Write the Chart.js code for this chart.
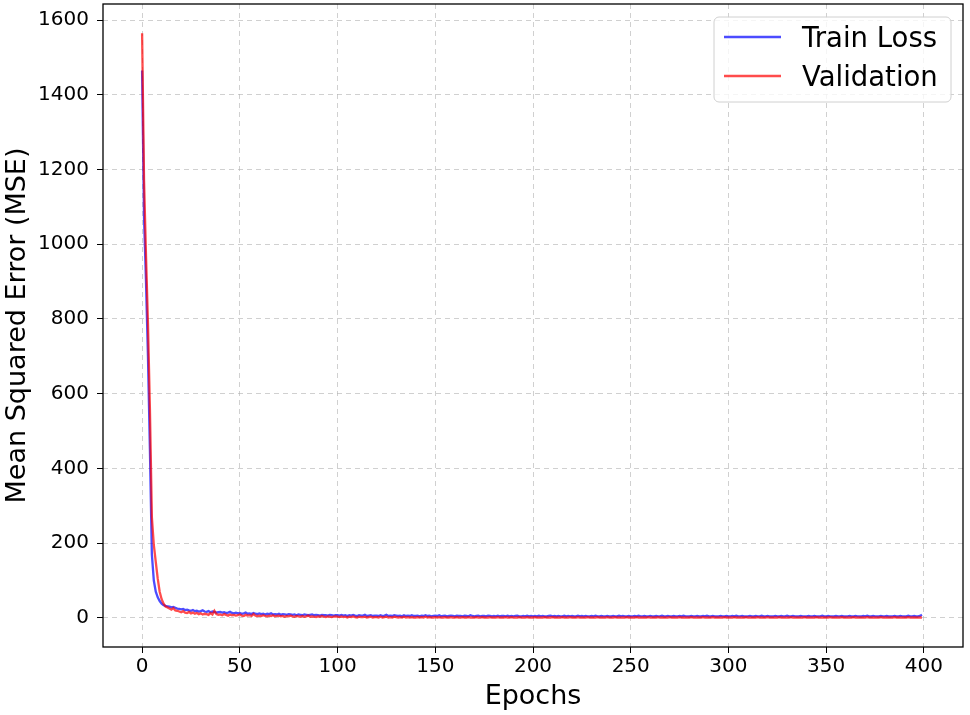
<!DOCTYPE html>
<html>
<head>
<meta charset="utf-8">
<script src="https://cdn.jsdelivr.net/npm/chart.js@4/dist/chart.umd.min.js"></script>
<style>
  html, body { margin: 0; padding: 0; background: #fff; }
  #wrap { width: 970px; height: 715px; }
</style>
</head>
<body>
<div id="wrap"><canvas id="lossChart" width="970" height="715"></canvas></div>
<script>
// values, one per epoch (0..399)
const trainLoss = [
  1465, 1070, 900, 700, 450, 170, 100, 70, 55, 45, 38, 34, 32, 31, 30, 28, 29, 27, 25, 24,
  23, 24, 21, 22, 20, 19, 21, 18, 19, 17, 18, 20, 17, 16, 18, 15, 17, 16, 14, 15,
  16, 14, 15, 13, 14, 16, 13, 12, 14, 12, 13, 11, 12, 14, 11, 12, 10, 13, 11, 10,
  12, 10, 11, 9, 11, 10, 12, 9, 10, 9, 11, 8, 10, 9, 8, 10, 9, 8, 9, 7,
  9, 8, 7, 9, 8, 7, 8, 9, 7, 8, 7, 6, 8, 7, 7, 6, 8, 7, 6, 7,
  7, 6, 8, 6, 7, 5, 7, 6, 8, 6, 5, 7, 6, 6, 8, 5, 6, 7, 5, 6,
  6, 5, 7, 5, 6, 8, 5, 6, 5, 7, 6, 5, 6, 4, 7, 5, 6, 5, 7, 5,
  5, 6, 4, 6, 5, 7, 5, 6, 4, 5, 6, 5, 7, 4, 5, 6, 4, 5, 6, 5,
  4, 6, 5, 5, 4, 6, 5, 4, 7, 5, 4, 5, 6, 4, 5, 5, 4, 6, 5, 4,
  5, 4, 6, 4, 5, 5, 4, 6, 4, 5, 4, 5, 6, 4, 4, 5, 4, 6, 4, 5,
  4, 5, 4, 6, 4, 5, 4, 4, 5, 6, 4, 5, 4, 5, 4, 4, 6, 4, 5, 4,
  5, 4, 4, 6, 4, 5, 4, 5, 4, 4, 5, 4, 6, 4, 4, 5, 4, 4, 5, 4,
  4, 5, 4, 4, 6, 4, 5, 4, 4, 5, 4, 4, 5, 4, 6, 4, 4, 5, 4, 4,
  5, 4, 4, 5, 4, 4, 6, 4, 4, 5, 4, 4, 5, 4, 4, 5, 4, 6, 4, 4,
  4, 5, 4, 4, 5, 4, 4, 5, 4, 6, 4, 4, 5, 4, 4, 4, 5, 4, 4, 5,
  4, 4, 5, 4, 6, 4, 4, 5, 4, 4, 4, 5, 4, 4, 5, 4, 4, 6, 4, 4,
  5, 4, 4, 4, 5, 4, 4, 5, 4, 4, 6, 4, 4, 5, 4, 4, 4, 5, 4, 4,
  4, 5, 4, 4, 5, 4, 4, 4, 6, 4, 4, 5, 4, 4, 4, 5, 4, 4, 5, 4,
  4, 4, 5, 4, 4, 5, 4, 4, 4, 5, 4, 6, 4, 4, 5, 4, 4, 4, 5, 4,
  4, 5, 4, 4, 4, 5, 4, 4, 5, 4, 4, 4, 6, 4, 4, 5, 4, 4, 5, 8
];
const valLoss = [
  1565, 1170, 970, 790, 560, 270, 195, 150, 105, 70, 50, 38, 30, 28, 25, 22, 26, 20, 19, 17,
  15, 18, 14, 13, 16, 12, 14, 11, 13, 10, 12, 9, 11, 10, 8, 13, 9, 19, 10, 8,
  9, 7, 10, 8, 6, 9, 7, 8, 6, 7, 9, 6, 5, 8, 6, 7, 5, 10, 6, 5,
  6, 5, 7, 5, 4, 6, 5, 7, 4, 5, 6, 4, 5, 3, 5, 4, 6, 4, 3, 5,
  4, 3, 5, 3, 4, 6, 3, 4, 3, 2, 4, 3, 5, 3, 2, 4, 3, 2, 3, 4,
  3, 2, 4, 2, 3, 1, 3, 2, 4, 2, 1, 3, 2, 2, 3, 1, 2, 3, 1, 2,
  2, 1, 3, 1, 2, 3, 1, 2, 1, 3, 2, 1, 2, 1, 3, 1, 2, 1, 2, 1,
  1, 2, 1, 2, 1, 3, 1, 2, 1, 1, 2, 1, 2, 1, 1, 2, 1, 1, 2, 1,
  1, 2, 1, 1, 2, 1, 1, 2, 1, 1, 1, 2, 1, 1, 2, 1, 1, 1, 2, 1,
  1, 1, 2, 1, 1, 1, 2, 1, 1, 2, 1, 1, 1, 2, 1, 1, 1, 2, 1, 1,
  1, 2, 1, 1, 1, 1, 2, 1, 1, 1, 2, 1, 1, 1, 1, 2, 1, 1, 1, 2,
  1, 1, 1, 2, 1, 1, 1, 1, 2, 1, 1, 1, 1, 2, 1, 1, 1, 1, 2, 1,
  1, 1, 2, 1, 1, 1, 1, 1, 2, 1, 1, 1, 1, 2, 1, 1, 1, 1, 1, 2,
  1, 1, 1, 1, 2, 1, 1, 1, 1, 1, 2, 1, 1, 1, 1, 2, 1, 1, 1, 1,
  1, 2, 1, 1, 1, 1, 1, 2, 1, 1, 1, 1, 2, 1, 1, 1, 1, 1, 2, 1,
  1, 1, 1, 2, 1, 1, 1, 1, 1, 2, 1, 1, 1, 1, 1, 2, 1, 1, 1, 1,
  2, 1, 1, 1, 1, 1, 2, 1, 1, 1, 1, 1, 2, 1, 1, 1, 1, 1, 1, 2,
  1, 1, 1, 1, 1, 2, 1, 1, 1, 1, 1, 1, 2, 1, 1, 1, 1, 1, 2, 1,
  1, 1, 1, 1, 2, 1, 1, 1, 1, 1, 1, 2, 1, 1, 1, 1, 1, 1, 2, 1,
  1, 1, 1, 1, 1, 2, 1, 1, 1, 1, 1, 1, 2, 1, 1, 1, 1, 1, 1, 1
];
const seriesNames = ['Train Loss', 'Validation'];
const seriesColors = ['rgba(0, 0, 255, 0.7)', 'rgba(255, 0, 0, 0.7)'];
const xTicks = [0, 50, 100, 150, 200, 250, 300, 350, 400];
const yTicks = [0, 200, 400, 600, 800, 1000, 1200, 1400, 1600];

Chart.defaults.font.family = '"DejaVu Sans", sans-serif';
Chart.defaults.color = '#000';

const toPoints = arr => arr.map((v, i) => ({ x: i, y: v }));

// black frame round the plot area, like matplotlib spines
const framePlugin = {
  id: 'frame',
  afterDatasetsDraw(chart) {
    const { ctx, chartArea: a } = chart;
    ctx.save();
    ctx.strokeStyle = '#000';
    ctx.lineWidth = 1.3;
    ctx.strokeRect(a.left, a.top, a.right - a.left, a.bottom - a.top);
    ctx.restore();
  }
};

// legend box in the upper right corner
const legendBox = {
  id: 'legendBox',
  afterDraw(chart) {
    const ctx = chart.ctx;
    const x = 714, y = 17, w = 237, h = 85, r = 5;
    ctx.save();
    ctx.beginPath();
    ctx.roundRect(x, y, w, h, r);
    ctx.fillStyle = 'rgba(255,255,255,0.8)';
    ctx.fill();
    ctx.strokeStyle = '#d0d0d0';
    ctx.lineWidth = 1;
    ctx.stroke();
    ctx.font = '27.5px "DejaVu Sans"';
    ctx.textBaseline = 'alphabetic';
    chart.data.datasets.forEach((ds, i) => {
      const ly = 37 + i * 39;
      ctx.beginPath();
      ctx.moveTo(724, ly);
      ctx.lineTo(781, ly);
      ctx.strokeStyle = ds.borderColor;
      ctx.lineWidth = 2.3;
      ctx.stroke();
      ctx.fillStyle = '#000';
      ctx.fillText(ds.label, 802, ly + 10);
    });
    ctx.restore();
  }
};

new Chart(document.getElementById('lossChart'), {
  type: 'line',
  data: {
    datasets: [
      { label: seriesNames[0], data: toPoints(trainLoss), borderColor: seriesColors[0], borderWidth: 2.3, pointRadius: 0, tension: 0, order: 2 },
      { label: seriesNames[1], data: toPoints(valLoss), borderColor: seriesColors[1], borderWidth: 2.3, pointRadius: 0, tension: 0, order: 1 }
    ]
  },
  options: {
    responsive: false,
    animation: false,
    layout: { padding: { top: 4, right: 7, left: 0, bottom: 0 } },
    plugins: { legend: { display: false }, tooltip: { enabled: false } },
    scales: {
      x: {
        type: 'linear',
        min: -20,
        max: 420,
        afterBuildTicks: s => { s.ticks = xTicks.map(v => ({ value: v })); },
        afterFit: s => { s.height = 68; s.paddingLeft = 0; s.paddingRight = 0; },
        ticks: { font: { size: 20 }, padding: 2, maxRotation: 0, callback: v => String(v) },
        grid: { color: 'rgba(176,176,176,0.6)', tickColor: '#000', tickLength: 6, tickBorderDash: [], lineWidth: 1 },
        border: { display: false, dash: [5, 4] },
        title: { display: true, text: 'Epochs', font: { size: 27 }, padding: { top: 0, bottom: 2 } }
      },
      y: {
        type: 'linear',
        min: -78,
        max: 1643,
        afterBuildTicks: s => { s.ticks = yTicks.map(v => ({ value: v })); },
        afterFit: s => { s.width = 103; s.paddingTop = 0; s.paddingBottom = 0; },
        ticks: { font: { size: 20 }, padding: 8, callback: v => String(v) },
        grid: { color: 'rgba(176,176,176,0.6)', tickColor: '#000', tickLength: 6, tickBorderDash: [], lineWidth: 1 },
        border: { display: false, dash: [5, 4] },
        title: { display: true, text: 'Mean Squared Error (MSE)', font: { size: 27 }, padding: { top: 2, bottom: 0 } }
      }
    }
  },
  plugins: [framePlugin, legendBox]
});
</script>
</body>
</html>
